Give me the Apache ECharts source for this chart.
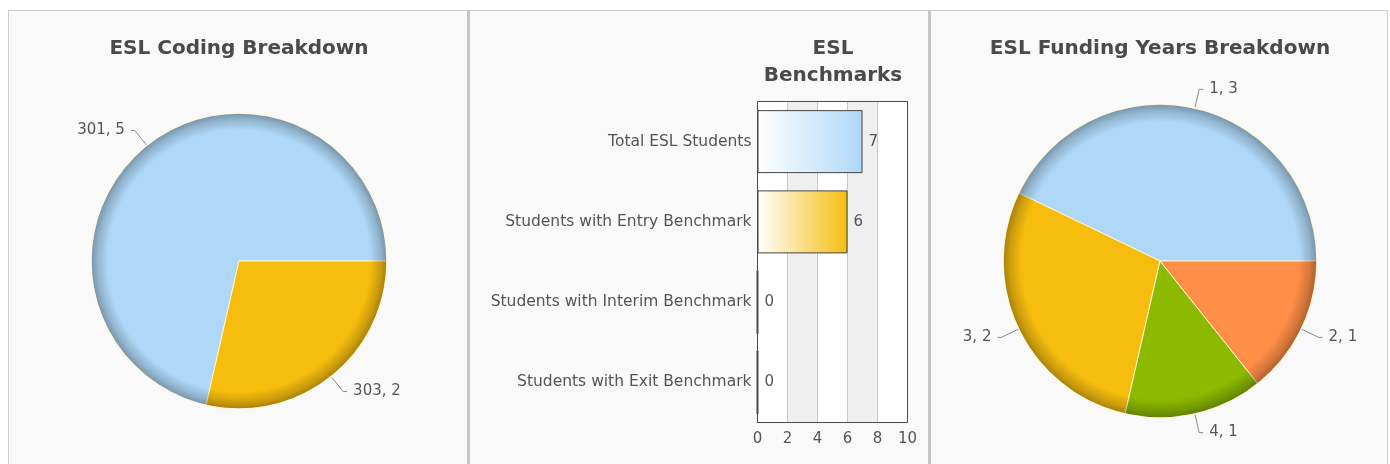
<!DOCTYPE html>
<html>
<head>
<meta charset="utf-8">
<script src="https://cdn.jsdelivr.net/npm/echarts@6/dist/echarts.min.js"></script>
<style>
  html, body { margin: 0; padding: 0; background: #ffffff; }
  #wrap { position: relative; width: 1390px; height: 464px; overflow: hidden; }
  .frame { position: absolute; left: 8px; top: 10px; width: 1380px; height: 470px;
           box-sizing: border-box; border: 1px solid #cccccc; background: #f9f9f9; }
  .divider { position: absolute; top: 10px; width: 3px; height: 470px; background: #c6c6c6; }
  #chart { position: absolute; left: 0; top: 0; width: 1390px; height: 464px; }
</style>
</head>
<body>
<div id="wrap">
  <div class="frame"></div>
  <div class="divider" style="left:467px"></div>
  <div class="divider" style="left:928px"></div>
  <div id="chart"></div>
</div>
<script>
// ESL coding codes and student counts
const codingNames = ['301', '303'];
const codingValues = [5, 2];

// Benchmark counts
const benchmarkCategories = [
  'Total ESL Students',
  'Students with Entry Benchmark',
  'Students with Interim Benchmark',
  'Students with Exit Benchmark'
];
const benchmarkValues = [7, 6, 0, 0];
const benchmarkAxisMin = 0;
const benchmarkAxisMax = 10;
const benchmarkAxisStep = 2;

// Funding years and student counts
const fundingNames = ['1', '3', '4', '2'];
const fundingValues = [3, 2, 1, 1];

const palette = ['#AFD8F8', '#F6BD0F', '#8BBA00', '#FF8E46'];
const textColor = '#555555';
const font = '"DejaVu Sans", Verdana, sans-serif';

function pieData(names, values) {
  return names.map((n, i) => ({
    name: n,
    value: values[i],
    itemStyle: { color: palette[i % palette.length] }
  }));
}

// Darkened rim drawn over a whole pie to give it a rounded look
function rimSeries(center, radius, values) {
  const total = values.reduce((a, b) => a + b, 0);
  return {
    type: 'pie',
    center: center,
    radius: [0, radius],
    silent: true,
    animation: false,
    label: { show: false },
    labelLine: { show: false },
    emphasis: { disabled: true },
    data: [{
      value: total,
      itemStyle: {
        color: {
          type: 'radial', x: 0.5, y: 0.5, r: 0.5,
          colorStops: [
            { offset: 0, color: 'rgba(0,0,0,0)' },
            { offset: 0.88, color: 'rgba(0,0,0,0)' },
            { offset: 0.95, color: 'rgba(0,0,0,0.17)' },
            { offset: 1, color: 'rgba(0,0,0,0.34)' }
          ]
        },
        borderColor: 'rgba(255,250,228,0.95)',
        borderWidth: 1.5
      }
    }]
  };
}

function pieSeries(center, radius, names, values) {
  return {
    type: 'pie',
    center: center,
    radius: [0, radius],
    startAngle: 0,
    clockwise: false,
    animation: false,
    data: pieData(names, values),
    itemStyle: { borderColor: 'rgba(255,246,205,0.95)', borderWidth: 1 },
    label: {
      show: true,
      formatter: '{b}, {c}',
      color: textColor,
      fontFamily: font,
      fontSize: 15,
      distanceToLabelLine: 6
    },
    labelLine: {
      show: true,
      length: 19,
      length2: 4,
      lineStyle: { color: '#8a8a8a', width: 1 }
    }
  };
}

const titleStyle = { color: '#4a4a4a', fontFamily: font, fontSize: 20, fontWeight: 'bold' };

const chart = echarts.init(document.getElementById('chart'), null, { renderer: 'canvas' });

chart.setOption({
  animation: false,
  title: [
    { text: 'ESL Coding Breakdown', left: 234, top: 34, textAlign: 'center', textStyle: titleStyle },
    { text: 'ESL\nBenchmarks', left: 828, top: 30, textAlign: 'center',
      textStyle: Object.assign({}, titleStyle, { lineHeight: 27 }) },
    { text: 'ESL Funding Years Breakdown', left: 1155, top: 34, textAlign: 'center', textStyle: titleStyle }
  ],
  grid: {
    left: 757.5, top: 101.5, width: 150, height: 321, z: 3,
    show: true, borderColor: '#4a4a4a', borderWidth: 1, backgroundColor: 'transparent'
  },
  xAxis: {
    type: 'value',
    min: benchmarkAxisMin,
    max: benchmarkAxisMax,
    interval: benchmarkAxisStep,
    axisLine: { show: false },
    axisTick: { show: false },
    axisLabel: { color: textColor, fontFamily: font, fontSize: 15, margin: 9 },
    splitLine: { show: true, lineStyle: { color: '#c8c8c8', width: 1 } },
    splitArea: { show: true, areaStyle: { color: ['#ffffff', '#efefef'] } }
  },
  yAxis: {
    type: 'category',
    inverse: true,
    data: benchmarkCategories,
    axisLine: { show: false },
    axisTick: { show: false },
    axisLabel: { color: textColor, fontFamily: font, fontSize: 15.5, margin: 6 }
  },
  series: [
    pieSeries([239, 261], 148, codingNames, codingValues),
    rimSeries([239, 261], 148, codingValues),
    {
      type: 'bar',
      barWidth: 63,
      data: benchmarkValues.map((v, i) => ({
        value: v,
        itemStyle: {
          color: {
            type: 'linear', x: 0, y: 0, x2: 1, y2: 0,
            colorStops: [
              { offset: 0, color: '#ffffff' },
              { offset: 1, color: palette[i % palette.length] }
            ]
          },
          borderColor: '#444444',
          borderWidth: v === 0 ? 2 : 1
        }
      })),
      label: {
        show: true,
        position: 'right',
        distance: 6,
        color: textColor,
        fontFamily: font,
        fontSize: 15
      }
    },
    pieSeries([1160, 261], 157, fundingNames, fundingValues),
    rimSeries([1160, 261], 157, fundingValues)
  ]
});
</script>
</body>
</html>
